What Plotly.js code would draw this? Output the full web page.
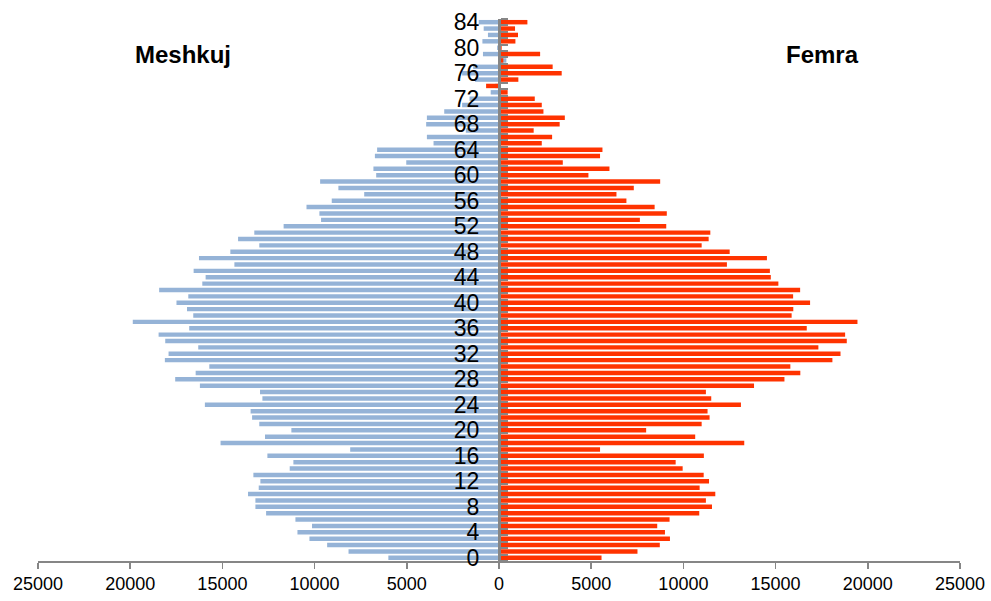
<!DOCTYPE html>
<html>
<head>
<meta charset="utf-8">
<script src="https://cdn.plot.ly/plotly-3.0.1.min.js"></script>
<style>
  html, body { margin: 0; padding: 0; background: #fff; }
  #chart { width: 991px; height: 601px; }
</style>
</head>
<body>
<div id="chart"></div>
<script>
// Ages (categories)
const ages = [
  0,1,2,3,4,5,6,7,8,9,10,11,12,13,14,15,16,17,18,19,20,
  21,22,23,24,25,26,27,28,29,30,31,32,33,34,35,36,37,38,39,40,
  41,42,43,44,45,46,47,48,49,50,51,52,53,54,55,56,57,58,59,60,
  61,62,63,64,65,66,67,68,69,70,71,72,73,74,75,76,77,78,79,80,
  81,82,83,84
];

// Meshkuj (males), ages 0..84
const meshkuj = [
  6000, 8160, 9320, 10280, 10930, 10140, 11040, 12630, 13210, 13210, 13610,
  13030, 12940, 13320, 11350, 11150, 12560, 8070, 15100, 12690, 11260,
  13000, 13390, 13470, 15950, 12830, 12960, 16220, 17560, 16450, 15710,
  18120, 17920, 16310, 18100, 18460, 16800, 19860, 16580, 16920, 17490,
  16850, 18430, 16090, 15910, 16560, 14350, 16270, 14570, 13000, 14150,
  13270, 11680, 9650, 9740, 10440, 9070, 7310, 8710, 9700, 6660,
  6810, 5030, 6730, 6610, 3550, 3910, 1800, 3950, 3910, 2970,
  2000, 1600, 450, 200, 1300, 2000, 1400, -400, 870, 100,
  900, 600, 830, 1100
];

// Femra (females), ages 0..84
const femra = [
  5560, 7510, 8720, 9270, 9000, 8580, 9250, 10860, 11550, 11220, 11730,
  10880, 11390, 11100, 9960, 9580, 11110, 5480, 13300, 10640, 7980,
  10990, 11420, 11310, 13120, 11510, 11220, 13830, 15480, 16340, 15800,
  18080, 18520, 17320, 18860, 18770, 16690, 19440, 15870, 15960, 16870,
  15950, 16330, 15150, 14740, 14690, 12360, 14530, 12510, 10990, 11370,
  11460, 9070, 7640, 9100, 8440, 6910, 6370, 7310, 8740, 4850,
  5990, 3460, 5480, 5610, 2320, 2880, 1880, 3290, 3570, 2410,
  2320, 1940, 470, -700, 1050, 3400, 2910, 235, 2230, 145,
  890, 1030, 870, 1540
];

// Tick labels
const xTickVals = [-25000, -20000, -15000, -10000, -5000, 0, 5000, 10000, 15000, 20000, 25000];
const xTickText = ['25000', '20000', '15000', '10000', '5000', '0', '5000', '10000', '15000', '20000', '25000'];
const yTickVals = [0, 4, 8, 12, 16, 20, 24, 28, 32, 36, 40, 44, 48, 52, 56, 60, 64, 68, 72, 76, 80, 84];
const yTickText = ['0', '4', '8', '12', '16', '20', '24', '28', '32', '36', '40', '44', '48', '52', '56', '60', '64', '68', '72', '76', '80', '84'];
const sideLabels = ['Meshkuj', 'Femra'];

const FONT = 'Liberation Sans, Arial, sans-serif';
const AXIS_GRAY = '#868686';

const traces = [
  {
    type: 'bar',
    orientation: 'h',
    name: sideLabels[0],
    y: ages,
    x: meshkuj.map(v => -v),
    width: 0.7,
    marker: { color: '#95B3D7', line: { width: 0 } },
    hoverinfo: 'skip'
  },
  {
    type: 'bar',
    orientation: 'h',
    name: sideLabels[1],
    y: ages,
    x: femra,
    width: 0.7,
    marker: { color: '#FF3300', line: { width: 0 } },
    hoverinfo: 'skip'
  }
];

const layout = {
  width: 991,
  height: 601,
  margin: { l: 38, r: 31, t: 19, b: 40 },
  paper_bgcolor: '#ffffff',
  plot_bgcolor: '#ffffff',
  barmode: 'overlay',
  showlegend: false,
  font: { family: FONT, color: '#000' },
  xaxis: {
    range: [-25000, 25000],
    tickmode: 'array',
    tickvals: xTickVals,
    ticktext: xTickText,
    showline: true,
    linecolor: AXIS_GRAY,
    linewidth: 1.5,
    ticks: 'outside',
    ticklen: 6,
    tickwidth: 1.5,
    tickcolor: AXIS_GRAY,
    showgrid: false,
    zeroline: false,
    tickfont: { family: FONT, size: 18, color: '#000' },
    fixedrange: true
  },
  yaxis: {
    range: [-0.5, 84.5],
    anchor: 'free',
    position: 0.5,
    tickmode: 'array',
    tickvals: yTickVals,
    ticktext: yTickText,
    ticks: '',
    showline: true,
    linecolor: AXIS_GRAY,
    linewidth: 2.5,
    showgrid: false,
    zeroline: false,
    tickfont: { family: FONT, size: 23, color: '#000' },
    ticklabelstandoff: 14,
    minor: {
      ticks: 'inside',
      ticklen: 7,
      tickwidth: 2,
      tickcolor: AXIS_GRAY,
      tick0: 0.5,
      dtick: 1,
      showgrid: false
    },
    fixedrange: true
  },
  annotations: [
    {
      text: '<b>' + sideLabels[0] + '</b>',
      xref: 'paper', yref: 'paper',
      x: 0.157, y: 0.934,
      xanchor: 'center', yanchor: 'middle',
      showarrow: false,
      font: { family: FONT, size: 24, color: '#000' }
    },
    {
      text: '<b>' + sideLabels[1] + '</b>',
      xref: 'paper', yref: 'paper',
      x: 0.8505, y: 0.934,
      xanchor: 'center', yanchor: 'middle',
      showarrow: false,
      font: { family: FONT, size: 24, color: '#000' }
    }
  ]
};

Plotly.newPlot('chart', traces, layout, { staticPlot: true, displayModeBar: false });
</script>
</body>
</html>
